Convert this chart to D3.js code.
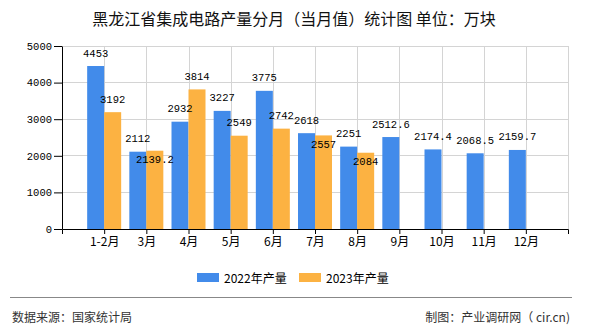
<!DOCTYPE html>
<html><head><meta charset="utf-8">
<script src="https://cdn.jsdelivr.net/npm/d3@7"></script>
<style>body{margin:0;background:#fff}svg{display:block}</style>
</head><body>
<svg id="c" width="590" height="330"></svg>
<script>
const categories = ["1-2月","3月","4月","5月","6月","7月","8月","9月","10月","11月","12月"];
const values2022 = [4453,2112,2932,3227,3775,2618,2251,2512.6,2174.4,2068.5,2159.7];
const values2023 = [3192,2139.2,3814,2549,2742,2557,2084,null,null,null,null];
const yTicks = [0,1000,2000,3000,4000,5000];
const seriesNames = ["2022年产量","2023年产量"];
const colors = ["#428bea","#fcb242"];

const svg = d3.select("#c");
const numFont = "'Liberation Mono','DejaVu Sans Mono',monospace";
const cjk = "'Noto Sans CJK SC','Noto Sans',sans-serif";

svg.append("text").attr("x",294).attr("y",18).attr("text-anchor","middle")
  .attr("dominant-baseline","central").attr("font-family",cjk).attr("font-size",16)
  .attr("fill","#111").text("黑龙江省集成电路产量分月（当月值）统计图 单位：万块");

const x = d3.scalePoint().domain(categories).range([62,568]).padding(1);
const y = d3.scaleLinear().domain([0,5000]).range([229,46]);
const bw = 17;

// grid
const g = svg.append("g");
g.selectAll("line.h").data(yTicks.slice(1)).join("line")
  .attr("x1",x.range()[0]).attr("x2",x.range()[1]).attr("y1",d=>y(d)).attr("y2",d=>y(d))
  .attr("stroke","#d4d4d4").attr("shape-rendering","crispEdges");
g.selectAll("line.v").data(categories.map(c=>x(c)).concat([x.range()[1]])).join("line")
  .attr("x1",d=>Math.round(d)+0.5).attr("x2",d=>Math.round(d)+0.5).attr("y1",y(5000)).attr("y2",y(0))
  .attr("stroke","#d4d4d4");

// bars
const data = categories.map((c,i)=>({c, v:[values2022[i], values2023[i]]}));
const bars = svg.append("g");
[0,1].forEach(s=>{
  bars.selectAll("rect.s"+s).data(data.filter(d=>d.v[s]!=null)).join("rect")
    .attr("x",d=>x(d.c)+(s===0?-bw:0)).attr("width",bw)
    .attr("y",d=>y(d.v[s])).attr("height",d=>y(0)-y(d.v[s]))
    .attr("fill",colors[s]);
});

// labels with simple overlap avoidance
const labels = [];
data.forEach(d=>{
  [0,1].forEach(s=>{
    if(d.v[s]==null) return;
    const t = String(d.v[s]);
    const cx = x(d.c)+(s===0?-bw/2:bw/2);
    const w = t.length*6;
    let base = y(d.v[s]) - 9.5;
    if(s===1){
      const b = labels.find(l=>l.c===d.c);
      if(b && Math.abs(b.base-base)<9 && Math.abs(b.cx-cx) < (b.w+w)/2) base = y(d.v[s]) + 12.5;
    }
    labels.push({c:d.c,cx,w,base,t});
  });
});
svg.append("g").selectAll("text").data(labels).join("text")
  .attr("x",d=>d.cx).attr("y",d=>d.base).attr("text-anchor","middle")
  .attr("font-family",numFont).attr("font-size",10.5).attr("fill","#000").text(d=>d.t);

// axes
const ya = svg.append("g").attr("transform","translate(62,0)")
  .call(d3.axisLeft(y).tickValues(yTicks).tickFormat(d3.format("d")).tickSize(8).tickSizeOuter(0).tickPadding(2));
ya.selectAll("text").attr("font-family",numFont).attr("font-size",10.5).attr("fill","#000");
const xa = svg.append("g").attr("transform","translate(0,229)")
  .call(d3.axisBottom(x).tickSize(5).tickSizeOuter(5).tickPadding(3));
xa.selectAll("text").attr("font-family",cjk).attr("font-size",12).attr("fill","#000");
svg.selectAll(".domain,.tick line").attr("stroke","#000");

// legend
const lg = svg.append("g");
seriesNames.forEach((n,i)=>{
  const lx = 197 + i*102;
  lg.append("rect").attr("x",lx).attr("y",273).attr("width",22).attr("height",9).attr("fill",colors[i]);
  lg.append("text").attr("x",lx+27).attr("y",277.5).attr("dominant-baseline","central")
    .attr("font-family",cjk).attr("font-size",12).attr("fill","#000").text(n);
});

// footer
svg.append("line").attr("x1",10).attr("x2",572).attr("y1",297.5).attr("y2",297.5).attr("stroke","#888");
svg.append("text").attr("x",12).attr("y",316).attr("dominant-baseline","central")
  .attr("font-family",cjk).attr("font-size",12).attr("fill","#333").text("数据来源：国家统计局");
svg.append("text").attr("x",570).attr("y",316).attr("text-anchor","end").attr("dominant-baseline","central")
  .attr("font-family",cjk).attr("font-size",12).attr("fill","#333").text("制图：产业调研网（ cir.cn)");
</script>
</body></html>
